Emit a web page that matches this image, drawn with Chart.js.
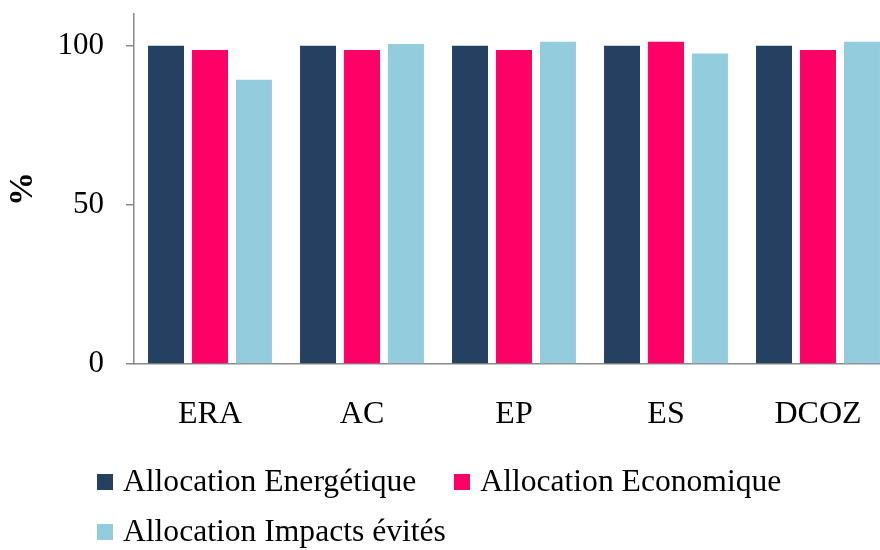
<!DOCTYPE html>
<html>
<head>
<meta charset="utf-8">
<script src="https://cdn.jsdelivr.net/npm/chart.js@4.4.1/dist/chart.umd.min.js"></script>
<style>
  html, body { margin: 0; padding: 0; background: #fff; overflow: hidden; }
  #wrap { position: absolute; left: 0; top: 0; width: 900px; height: 550px; }
  #legend {
    position: absolute; left: 97px; top: 456px; width: 780px;
    display: flex; flex-wrap: wrap;
    font-family: "Liberation Serif", "Times New Roman", serif; font-size: 31.6px; color: #000;
  }
  .item { display: flex; align-items: center; height: 50px; margin-right: 38px; white-space: nowrap; }
  .box { width: 16px; height: 16px; margin-right: 10px; margin-top: 2px; }
</style>
</head>
<body>
<div id="wrap">
  <canvas id="chart" width="900" height="550"></canvas>
  <div id="legend"></div>
</div>
<script>
// categories and series
const categories = ["ERA", "AC", "EP", "ES", "DCOZ"];
const seriesNames = ["Allocation Energétique", "Allocation Economique", "Allocation Impacts évités"];
const energetique = [100, 100, 100, 100, 100];
const economique = [98.7, 98.7, 98.7, 101.3, 98.7];
const impactsEvites = [89.3, 100.6, 101.3, 97.6, 101.3];
const seriesColors = ["#254061", "#FF0066", "#93CDDD"];
const yTicks = [0, 50, 100];

const serif = "'Liberation Serif', 'Times New Roman', serif";
const axisGray = "#8a8a8a";

const values = [energetique, economique, impactsEvites];
const datasets = values.map((v, i) => ({
    label: seriesNames[i],
    data: v,
    backgroundColor: seriesColors[i],
    borderWidth: 0,
    barPercentage: 0.818,
    categoryPercentage: 0.868
}));

const chart = new Chart(document.getElementById("chart"), {
    type: "bar",
    data: { labels: categories, datasets: datasets },
    options: {
        responsive: false,
        animation: false,
        layout: { padding: { top: 14, left: 0, right: 6, bottom: 0 } },
        plugins: { legend: { display: false }, tooltip: { enabled: false } },
        scales: {
            x: {
                grid: { display: false, drawTicks: false },
                border: { display: true, color: axisGray, width: 1.5 },
                ticks: { color: "#000", font: { family: serif, size: 32 }, padding: 31, maxRotation: 0 },
                afterFit: (scale) => { scale.height = 186; scale.paddingLeft = 0; scale.paddingRight = 0; }
            },
            y: {
                min: 0,
                max: 110,
                grid: { drawOnChartArea: false, drawTicks: true, tickLength: 8, color: axisGray, lineWidth: 1.5 },
                border: { display: true, color: axisGray, width: 1.5 },
                ticks: { stepSize: 50, color: "#000", font: { family: serif, size: 31 }, padding: 22 },
                afterBuildTicks: (scale) => {
                    scale.ticks = yTicks.map(v => ({ value: v }));
                },
                title: { display: true, text: "%", color: "#000", font: { family: serif, size: 34, weight: "bold" }, padding: { top: 3, bottom: 0 } },
                afterFit: (scale) => { scale.width = 134; scale.paddingTop = 0; scale.paddingBottom = 0; }
            }
        }
    }
});

// legend in html, two rows like the original
const legend = document.getElementById("legend");
seriesNames.forEach((name, i) => {
    const item = document.createElement("div");
    item.className = "item";
    const box = document.createElement("div");
    box.className = "box";
    box.style.background = seriesColors[i];
    item.appendChild(box);
    item.append(name);
    legend.appendChild(item);
});
</script>
</body>
</html>
